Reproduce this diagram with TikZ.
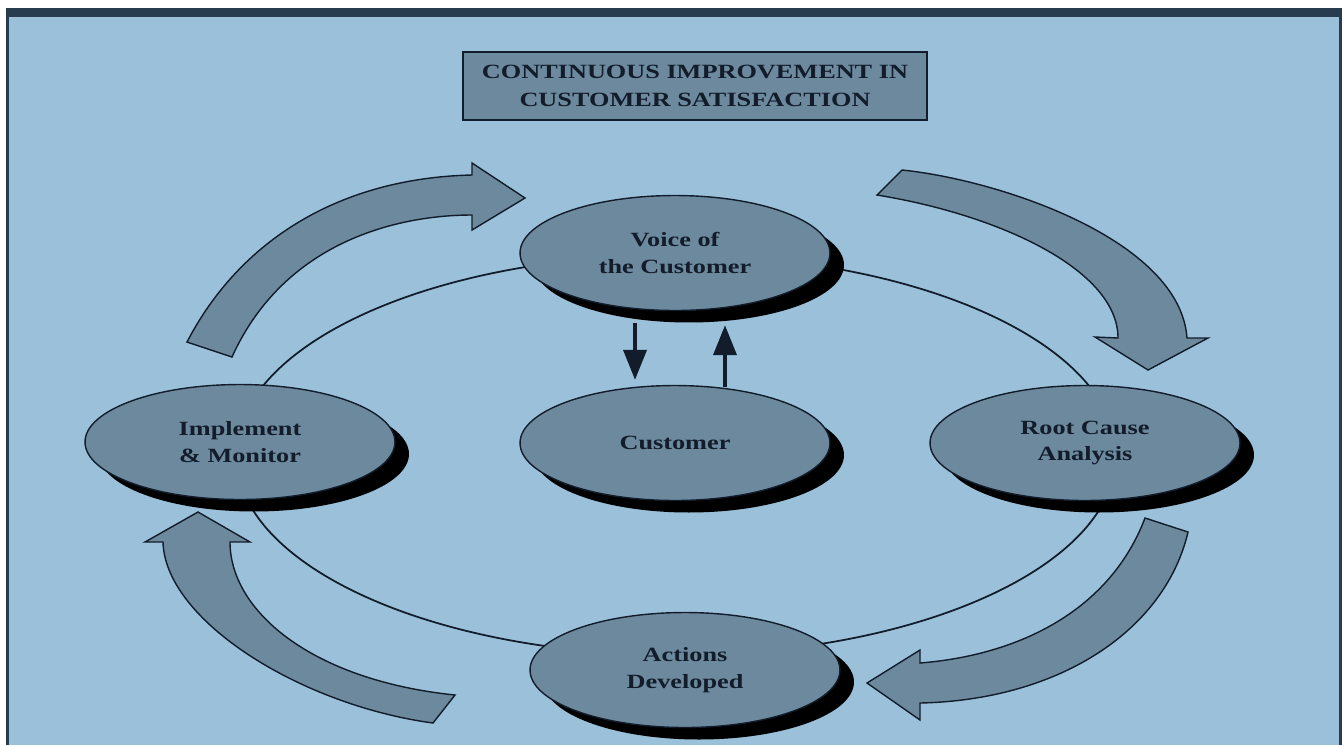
\documentclass[tikz,border=0pt]{standalone}
\usepackage{xcolor}
\usepackage{fontspec}
\setmainfont{Liberation Serif}
\newfontfamily\widefont[FakeStretch=1.3]{Liberation Serif}
\usepackage{tikz}
\usetikzlibrary{shapes.geometric, arrows.meta, shadows}

\definecolor{skyback}{RGB}{154,193,217}
\definecolor{slate}{RGB}{108,137,158}
\definecolor{navy}{RGB}{18,28,42}
\definecolor{framebar}{RGB}{40,60,80}

\begin{document}
\begin{tikzpicture}[
    x=0.02cm, y=-0.02cm,
    oval/.style={ellipse, draw=navy, line width=0.8pt, fill=slate,
                 minimum width=6.2cm, minimum height=2.3cm, inner sep=0pt,
                 align=center, text=navy,
                 font=\widefont\bfseries\fontsize{11.5}{15.3}\selectfont,
                 drop shadow={shadow xshift=0.28cm, shadow yshift=-0.24cm,
                              fill=black, opacity=1}},
    titlebox/.style={rectangle, draw=navy, line width=1pt, fill=slate,
                     minimum width=9.28cm, minimum height=1.36cm,
                     align=center, text=navy,
                     font=\widefont\bfseries\fontsize{11.5}{15.9}\selectfont},
    bigarrow/.style={draw=navy, line width=0.8pt, fill=slate},
    arr/.style={-{Triangle[length=0.6cm, width=0.46cm]}, line width=2.2pt, draw=navy}
]
% frame and background
\useasboundingbox (0,0) rectangle (1344,745);
\fill[white] (0,0) rectangle (1344,745);
\fill[skyback] (6,8) rectangle (1342,745);
\fill[framebar] (6,8) rectangle (1342,17);
\fill[framebar] (6,8) rectangle (9,745);
\fill[framebar] (1339,8) rectangle (1342,745);

% cycle ring
\draw[navy, line width=1pt] (676,455) ellipse [x radius=440, y radius=200];

% curved block arrows
\draw[bigarrow] (187,342) .. controls (240,240) and (340,178) .. (472,175)
    -- (472,163) -- (525,198) -- (472,230) -- (472,215)
    .. controls (400,215) and (285,240) .. (232,357) -- cycle;
\draw[bigarrow] (902,170) .. controls (1000,180) and (1180,240) .. (1187,338)
    -- (1208,338) -- (1148,370) -- (1095,337) -- (1118,338)
    .. controls (1118,270) and (1000,215) .. (877,195) -- cycle;
\draw[bigarrow] (1188,532) .. controls (1165,630) and (1060,700) .. (920,703)
    -- (920,720) -- (867,683) -- (920,650) -- (920,663)
    .. controls (1020,655) and (1110,610) .. (1145,518) -- cycle;
\draw[bigarrow] (433,723) .. controls (300,705) and (165,620) .. (163,542)
    -- (145,542) -- (198,512) -- (250,542) -- (230,542)
    .. controls (230,610) and (310,680) .. (455,695) -- cycle;

\node[titlebox] (title)     at (695,86)   {CONTINUOUS IMPROVEMENT IN\\CUSTOMER SATISFACTION};
\node[oval]     (voice)     at (675,253)  {Voice of\\the Customer};
\node[oval]     (customer)  at (675,443)  {Customer};
\node[oval]     (implement) at (240,442)  {Implement\\\& Monitor};
\node[oval]     (rootcause) at (1085,443) {Root Cause\\Analysis};
\node[oval]     (actions)   at (685,670)  {Actions\\Developed};

\draw[arr] ([xshift=-0.8cm, yshift=-0.24cm]voice.south) -- ([xshift=-0.8cm, yshift=0.1cm]customer.north);
\draw[arr] ([xshift=1cm, yshift=-0.05cm]customer.north) -- ([xshift=1cm, yshift=-0.28cm]voice.south);
\end{tikzpicture}
\end{document}
